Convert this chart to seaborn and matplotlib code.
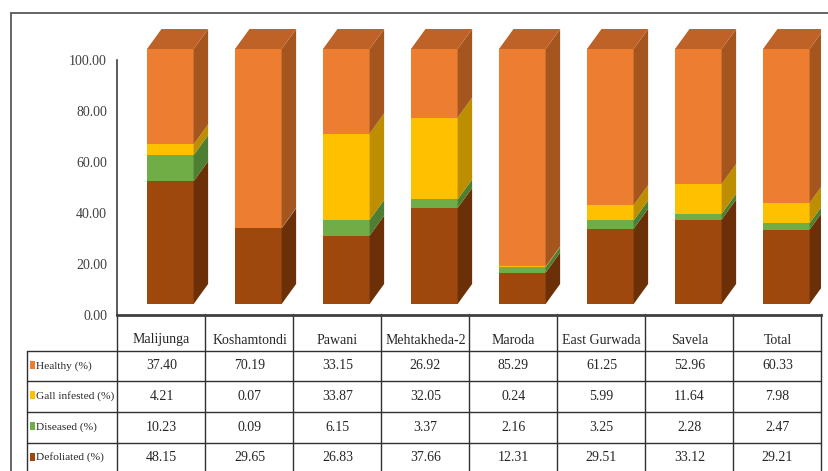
import matplotlib
matplotlib.use("Agg")
import matplotlib.pyplot as plt
import seaborn as sns
import numpy as np
import pandas as pd
from matplotlib.patches import Polygon, Rectangle
from matplotlib.transforms import ScaledTranslation

# ---------------- data ----------------
sites = ["Malijunga", "Koshamtondi", "Pawani", "Mehtakheda-2", "Maroda",
         "East Gurwada", "Savela", "Total"]
healthy = [37.40, 70.19, 33.15, 26.92, 85.29, 61.25, 52.96, 60.33]
gall = [4.21, 0.07, 33.87, 32.05, 0.24, 5.99, 11.64, 7.98]
diseased = [10.23, 0.09, 6.15, 3.37, 2.16, 3.25, 2.28, 2.47]
defoliated = [48.15, 29.65, 26.83, 37.66, 12.31, 29.51, 33.12, 29.21]
row_labels = ["Healthy (%)", "Gall infested (%)", "Diseased (%)", "Defoliated (%)"]
ytick_values = [0, 20, 40, 60, 80, 100]

# ---------------- style ----------------
sns.set_style("white")
plt.rcParams["font.family"] = ["Liberation Serif", "DejaVu Serif"]

W, H = 829, 471
fig = plt.figure(figsize=(W / 100, H / 100), dpi=100)


def fx(px):
    return px / W


def fy(py):
    return 1 - py / H


front_cols = {"Healthy": "#ED7D31", "Gall": "#FFC000", "Diseased": "#70AD47", "Defoliated": "#9E480E"}
side_cols = {"Healthy": "#A5561F", "Gall": "#BC8E00", "Diseased": "#4E7E31", "Defoliated": "#6B3007"}
top_col = "#BE6228"

# main axes: x from 117.5 to 821.5 px, y=0 at 315px, 2.55 px per unit
PXU = 2.55
ax = fig.add_axes([fx(117.5), fy(315), (821.5 - 117.5) / W, (315 - 5) / H])

bar_w = 0.53
shift = 0.10
xpos = np.arange(len(sites)) + shift
off = ScaledTranslation(0, 0.11, fig.dpi_scale_trans)
tr = ax.transData + off

# stack order bottom -> top
segs = [("Defoliated", np.array(defoliated)), ("Diseased", np.array(diseased)),
        ("Gall", np.array(gall)), ("Healthy", np.array(healthy))]
bottoms = {}
cum = np.zeros(len(sites))
for name, v in segs:
    bottoms[name] = cum.copy()
    cum = cum + v
tops = {name: bottoms[name] + v for name, v in segs}

# front faces: overlay cumulative bars, tallest first
for name, v in reversed(segs):
    n0 = len(ax.patches)
    df = pd.DataFrame({"x": xpos, "y": tops[name]})
    sns.barplot(data=df, x="x", y="y", native_scale=True, width=bar_w,
                color=front_cols[name], saturation=1, errorbar=None,
                linewidth=0, ax=ax, zorder=3)
    for p in ax.patches[n0:]:
        p.set_transform(tr)

# side and top faces (depth offsets)
ddx = 14.5 / 88.0
ddy = 20.0 / PXU
for i in range(len(sites)):
    xr = xpos[i] + bar_w / 2
    xl = xpos[i] - bar_w / 2
    for name, v in segs:
        b, t = bottoms[name][i], tops[name][i]
        if t - b <= 0:
            continue
        ax.add_patch(Polygon([(xr, b), (xr + ddx, b + ddy), (xr + ddx, t + ddy), (xr, t)],
                             closed=True, facecolor=side_cols[name], edgecolor="none",
                             transform=tr, zorder=3))
    T = tops["Healthy"][i]
    ax.add_patch(Polygon([(xl, T), (xl + ddx, T + ddy), (xr + ddx, T + ddy), (xr, T)],
                         closed=True, facecolor=top_col, edgecolor="none",
                         transform=tr, zorder=3))

ax.set_xlim(-0.5, len(sites) - 0.5)
ax.set_ylim(0, (315 - 5) / PXU)
ax.set_xticks([])
ax.set_xlabel("")
ax.set_ylabel("")
ax.set_yticks(ytick_values)
ax.set_yticklabels([f"{v:.2f}" for v in ytick_values])
ax.tick_params(axis="y", length=0, pad=7.5, labelsize=10, colors="#404040")
for s in ["top", "right"]:
    ax.spines[s].set_visible(False)
ax.spines["left"].set_bounds(0, 100)
ax.spines["left"].set_color("#404040")
ax.spines["left"].set_linewidth(1.2)
ax.spines["bottom"].set_color("#404040")
ax.spines["bottom"].set_linewidth(2.0)
ax.patch.set_alpha(0)

# ---------------- table + frame (pixel overlay) ----------------
tab = fig.add_axes([0, 0, 1, 1], zorder=-1)
tab.set_xlim(0, W)
tab.set_ylim(H, 0)
tab.axis("off")

lc = "#303030"
col_edges = [117.5 + 88 * k for k in range(len(sites) + 1)]
row_edges = [350.7, 380.8, 411.6, 442.6]
for xe in col_edges:
    tab.plot([xe, xe], [314, H], color=lc, lw=1.0)
tab.plot([27.5, 27.5], [350.7, H], color=lc, lw=1.0)
for ye in row_edges:
    tab.plot([27.5, col_edges[-1]], [ye, ye], color=lc, lw=1.0)

# outer frame
tab.plot([11, 11], [13, H], color="#595959", lw=1.3)
tab.plot([11, W], [13, 13], color="#595959", lw=1.3)

tc = "#262626"
fs = 10
centers = [161.5 + 88 * k for k in range(len(sites))]
for cx, name in zip(centers, sites):
    tab.text(cx, 340, name, ha="center", va="center", fontsize=fs, color=tc)

row_centers = [365.7, 396.2, 427.1, 457.5]
row_data = [healthy, gall, diseased, defoliated]
key_cols = [front_cols["Healthy"], front_cols["Gall"], front_cols["Diseased"], front_cols["Defoliated"]]
for ry, lab, vals, kc in zip(row_centers, row_labels, row_data, key_cols):
    tab.add_patch(Rectangle((30.0, ry - 5), 5.5, 8, facecolor=kc, edgecolor="none"))
    tab.text(35.8, ry, lab, ha="left", va="center", fontsize=8.2, color=tc)
    for cx, v in zip(centers, vals):
        tab.text(cx, ry, f"{v:.2f}", ha="center", va="center", fontsize=fs, color=tc)

fig.savefig("out.png", dpi=100)
